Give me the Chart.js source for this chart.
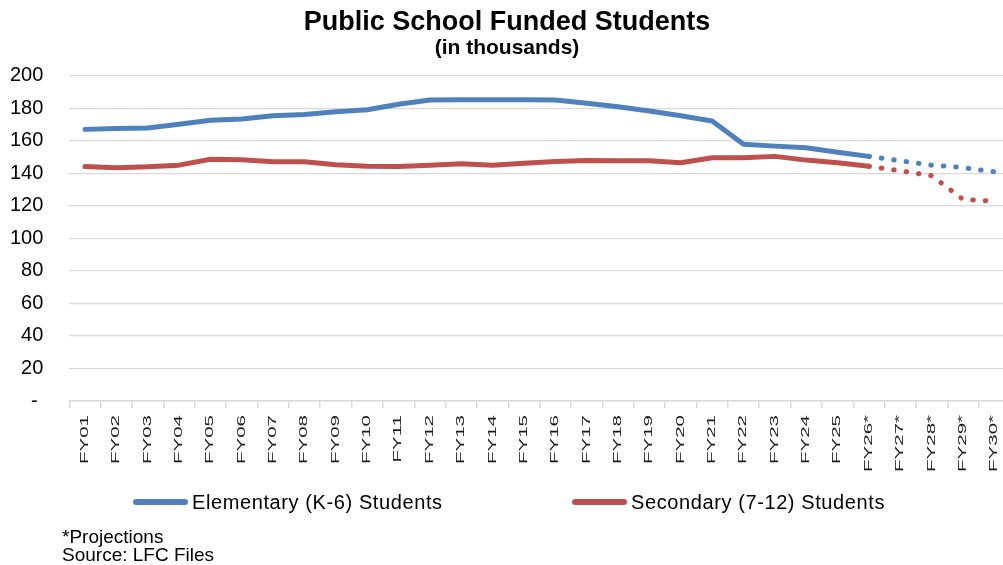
<!DOCTYPE html>
<html>
<head>
<meta charset="utf-8">
<title>Public School Funded Students</title>
<script src="https://cdn.jsdelivr.net/npm/chart.js@4.4.1/dist/chart.umd.min.js"></script>
<style>
  html, body { margin: 0; padding: 0; background: #fff; }
  body {
    width: 1003px; height: 565px; overflow: hidden; position: relative;
    font-family: 'Liberation Sans', Arial, sans-serif; color: #000;
  }
  /* plot runs a little past the right edge, like the original clip */
  #chart-wrap { position: absolute; left: 0; top: 0; width: 1014px; height: 565px; }
  .legend-item { position: absolute; top: 492px; height: 20px; }
  .legend-item:nth-child(1) { left: 133px; }
  .legend-item:nth-child(2) { left: 572px; }
  .legend-line { position: absolute; left: 0; top: 7px; width: 55px; height: 6px; border-radius: 3px; }
  .legend-text {
    position: absolute; left: 59px; top: 0; white-space: nowrap;
    font-size: 20px; line-height: 20px; letter-spacing: 0.6px;
  }
  #note { position: absolute; left: 62px; top: 527.5px; font-size: 19px; line-height: 18.3px; }
</style>
</head>
<body>
<div id="chart-wrap"><canvas id="chart"></canvas></div>
<div id="legend"></div>
<div id="note">*Projections<br>Source: LFC Files</div>

<script>
// ==========================================================================
// Data (thousands of students)
// ==========================================================================
const categories = [
  'FY01', 'FY02', 'FY03', 'FY04', 'FY05', 'FY06', 'FY07', 'FY08', 'FY09', 'FY10',
  'FY11', 'FY12', 'FY13', 'FY14', 'FY15', 'FY16', 'FY17', 'FY18', 'FY19', 'FY20',
  'FY21', 'FY22', 'FY23', 'FY24', 'FY25', 'FY26*', 'FY27*', 'FY28*', 'FY29*', 'FY30*'
];

const elementary = [
  167.0, 167.6, 167.8, 170.1, 172.6, 173.4, 175.4, 176.2, 177.8, 179.1,
  182.4, 185.0, 185.2, 185.2, 185.2, 185.0, 183.0, 180.9, 178.3, 175.4,
  172.1, 157.8, 156.7, 155.7, 152.9, 150.4, 147.7, 145.0, 143.5, 140.9
];

const secondary = [
  144.1, 143.4, 144.0, 145.0, 148.6, 148.3, 147.1, 147.1, 145.2, 144.4,
  144.2, 144.9, 145.8, 145.0, 146.1, 147.3, 147.8, 147.7, 147.7, 146.5,
  149.6, 149.6, 150.4, 148.1, 146.5, 144.3, 141.5, 138.5, 123.9, 122.9
];

const yTickValues = [0, 20, 40, 60, 80, 100, 120, 140, 160, 180, 200];

// projections start on this segment (FY26* onward is dotted)
const projectionStart = categories.indexOf('FY26*');

const BLUE = '#4f81bd';
const RED = '#c0504d';
const GRID = '#d9d9d9';
const FONT = "'Liberation Sans', Arial, sans-serif";
const LABEL_STRETCH = 1.95;

// ==========================================================================
// Plugin: category labels in the original are drawn long and narrow
// ==========================================================================
const stretchXLabels = {
  id: 'stretchXLabels',
  beforeDraw(chart) {
    const xScale = chart.scales.x;
    if (xScale._stretched) return;
    const drawLabels = xScale.drawLabels;
    xScale.drawLabels = function (area) {
      const ctx = this.ctx;
      ctx.fillText = function (text, x, y) {
        this.save();
        this.scale(LABEL_STRETCH, 1);
        CanvasRenderingContext2D.prototype.fillText.call(this, text, x / LABEL_STRETCH, y);
        this.restore();
      };
      drawLabels.call(this, area);
      delete ctx.fillText;
    };
    xScale._stretched = true;
  }
};

const dotted = ctx => (ctx.p0DataIndex >= projectionStart ? [0.5, 12] : undefined);

function makeSeries(label, values, color) {
  return {
    label: label,
    data: values,
    borderColor: color,
    backgroundColor: color,
    borderWidth: 5,
    borderCapStyle: 'round',
    borderJoinStyle: 'round',
    pointRadius: 0,
    pointHoverRadius: 0,
    tension: 0,
    segment: { borderDash: dotted }
  };
}

// ==========================================================================
// Chart
// ==========================================================================
const chart = new Chart(document.getElementById('chart'), {
  type: 'line',
  data: {
    labels: categories,
    datasets: [
      makeSeries('Elementary (K-6) Students', elementary, BLUE),
      makeSeries('Secondary (7-12) Students', secondary, RED)
    ]
  },
  options: {
    responsive: true,
    maintainAspectRatio: false,
    animation: false,
    layout: { padding: { left: 0, right: 0, top: 0, bottom: 0 } },
    plugins: {
      legend: { display: false },
      tooltip: { enabled: false },
      title: {
        display: true,
        text: 'Public School Funded Students',
        color: '#000',
        font: { family: FONT, size: 27, weight: 'bold', lineHeight: 1 },
        padding: { top: 9.2, bottom: 0 }
      },
      subtitle: {
        display: true,
        text: '(in thousands)',
        color: '#000',
        font: { family: FONT, size: 21, weight: 'bold', lineHeight: 1 },
        padding: { top: 1.5, bottom: 17 }
      }
    },
    scales: {
      x: {
        offset: true,
        grid: {
          offset: true,
          drawOnChartArea: false,
          drawTicks: true,
          tickLength: 7,
          color: GRID,
          lineWidth: 1.5
        },
        border: { display: true, color: GRID, width: 1.5 },
        ticks: {
          autoSkip: false,
          minRotation: 90,
          maxRotation: 90,
          padding: 7,
          color: '#1a1a1a',
          font: { family: FONT, size: 10.5 }
        },
        afterFit: scale => { scale.height = 164; }
      },
      y: {
        min: 0,
        max: 200,
        afterBuildTicks: axis => { axis.ticks = yTickValues.map(v => ({ value: v })); },
        grid: { color: GRID, lineWidth: 1.3, drawTicks: false },
        border: { display: false },
        ticks: {
          padding: 26,
          color: '#000',
          font: { family: FONT, size: 20 },
          callback: v => (v === 0 ? '- ' : v)
        },
        afterFit: scale => { scale.width = 69.3; }
      }
    }
  },
  plugins: [stretchXLabels]
});

// ==========================================================================
// Legend (built from the chart's datasets)
// ==========================================================================
const legendEl = document.getElementById('legend');
chart.data.datasets.forEach(ds => {
  const item = document.createElement('div');
  item.className = 'legend-item';
  item.innerHTML = `
    <span class="legend-line" style="background:${ds.borderColor}"></span>
    <span class="legend-text">${ds.label}</span>
  `;
  legendEl.appendChild(item);
});
</script>
</body>
</html>
